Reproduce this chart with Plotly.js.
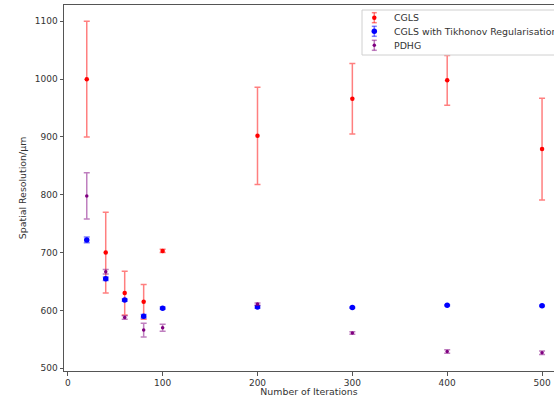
<!DOCTYPE html>
<html>
<head>
<meta charset="utf-8">
<script src="https://cdn.plot.ly/plotly-3.0.1.min.js"></script>
<style>html,body{margin:0;padding:0;background:#fff;overflow:hidden;}#chart{width:554px;height:397px;}</style>
</head>
<body>
<div id="chart"></div>
<script>
const iterations = [20, 40, 60, 80, 100, 200, 300, 400, 500];

const cglsValues = [1000, 700, 630, 615, 703, 902, 966, 998, 879];
const cglsErrors = [100, 70, 38, 30, 3, 84, 61, 43, 88];

const tikhonovValues = [722, 655, 618, 590, 604, 606, 605, 609, 608];
const tikhonovErrors = [5, 3, 2, 3, 2, 2, 1, 1, 1];

const pdhgValues = [798, 667, 588, 566, 570, 611, 561, 529, 527];
const pdhgErrors = [40, 4, 3, 12, 6, 2, 2, 3, 3];

const seriesNames = ["CGLS", "CGLS with Tikhonov Regularisation", "PDHG"];

const font = "DejaVu Sans, sans-serif";
const styles = [
  {color: "rgb(255,0,0)", err: "rgba(255,0,0,0.5)", size: 4.5},
  {color: "rgb(0,0,255)", err: "rgba(0,0,255,0.5)", size: 5.5},
  {color: "rgb(128,0,128)", err: "rgba(128,0,128,0.5)", size: 3.5}
];

function trace(name, y, err, st) {
  return {
    type: "scatter", mode: "markers", name: name, showlegend: false,
    x: iterations, y: y,
    marker: {color: st.color, size: st.size},
    error_y: {type: "data", array: err, visible: true, color: st.err, thickness: 1.5, width: 3}
  };
}

const data = [
  trace(seriesNames[0], cglsValues, cglsErrors, styles[0]),
  trace(seriesNames[1], tikhonovValues, tikhonovErrors, styles[1]),
  trace(seriesNames[2], pdhgValues, pdhgErrors, styles[2])
];

// Legend drawn in paper space (matplotlib style box with errorbar glyphs)
const M = {l: 64, r: 0, t: 5, b: 26};
const W = 554, H = 397;
const pw = W - M.l - M.r, ph = H - M.t - M.b;
const px = v => (v - M.l) / pw;
const py = v => (H - M.b - v) / ph;

const shapes = [{
  type: "rect", xref: "paper", yref: "paper", layer: "above",
  x0: px(362), x1: px(600), y0: py(55), y1: py(10),
  fillcolor: "rgba(255,255,255,0.8)", line: {color: "#d0d0d0", width: 1}
}];
const annotations = [];
const rowY = [17.7, 31.3, 45.3];
const gx = 374.3;
seriesNames.forEach((name, i) => {
  const st = styles[i], y = rowY[i];
  shapes.push({type: "line", xref: "paper", yref: "paper", layer: "above",
    x0: px(gx), x1: px(gx), y0: py(y - 5), y1: py(y + 5), line: {color: st.err, width: 1.5}});
  shapes.push({type: "line", xref: "paper", yref: "paper", layer: "above",
    x0: px(gx - 2.5), x1: px(gx + 2.5), y0: py(y - 5), y1: py(y - 5), line: {color: st.err, width: 1.5}});
  shapes.push({type: "line", xref: "paper", yref: "paper", layer: "above",
    x0: px(gx - 2.5), x1: px(gx + 2.5), y0: py(y + 5), y1: py(y + 5), line: {color: st.err, width: 1.5}});
  const r = st.size / 2;
  shapes.push({type: "circle", xref: "paper", yref: "paper", layer: "above",
    x0: px(gx - r), x1: px(gx + r), y0: py(y - r), y1: py(y + r),
    fillcolor: st.color, line: {width: 0}});
  annotations.push({xref: "paper", yref: "paper", x: px(392), y: py(y),
    xanchor: "left", yanchor: "middle", showarrow: false, text: name,
    font: {family: font, size: 9.4, color: "#333"}});
});

const layout = {
  width: W, height: H,
  margin: {l: M.l, r: M.r, t: M.t, b: M.b, autoexpand: false},
  paper_bgcolor: "#fff", plot_bgcolor: "#fff",
  font: {family: font, size: 9, color: "#333"},
  showlegend: false,
  shapes: shapes,
  annotations: annotations,
  xaxis: {
    range: [-4, 512.6], tickvals: [0, 100, 200, 300, 400, 500],
    showgrid: false, zeroline: false,
    showline: true, linecolor: "#555", linewidth: 1, mirror: true,
    ticks: "outside", ticklen: 3.5, tickcolor: "#555",
    tickfont: {family: font, size: 9, color: "#333"},
    title: {text: "Number of Iterations", font: {family: font, size: 9.4, color: "#333"}, standoff: 5},
    automargin: false
  },
  yaxis: {
    range: [495.3, 1128.2], tickvals: [500, 600, 700, 800, 900, 1000, 1100],
    showgrid: false, zeroline: false,
    showline: true, linecolor: "#555", linewidth: 1, mirror: false,
    ticks: "outside", ticklen: 3.5, tickcolor: "#555",
    tickfont: {family: font, size: 9, color: "#333"},
    title: {text: "Spatial Resolution/μm", font: {family: font, size: 9.4, color: "#333"}, standoff: 6},
    automargin: false
  }
};

Plotly.newPlot("chart", data, layout, {displayModeBar: false, staticPlot: true});
</script>
</body>
</html>
